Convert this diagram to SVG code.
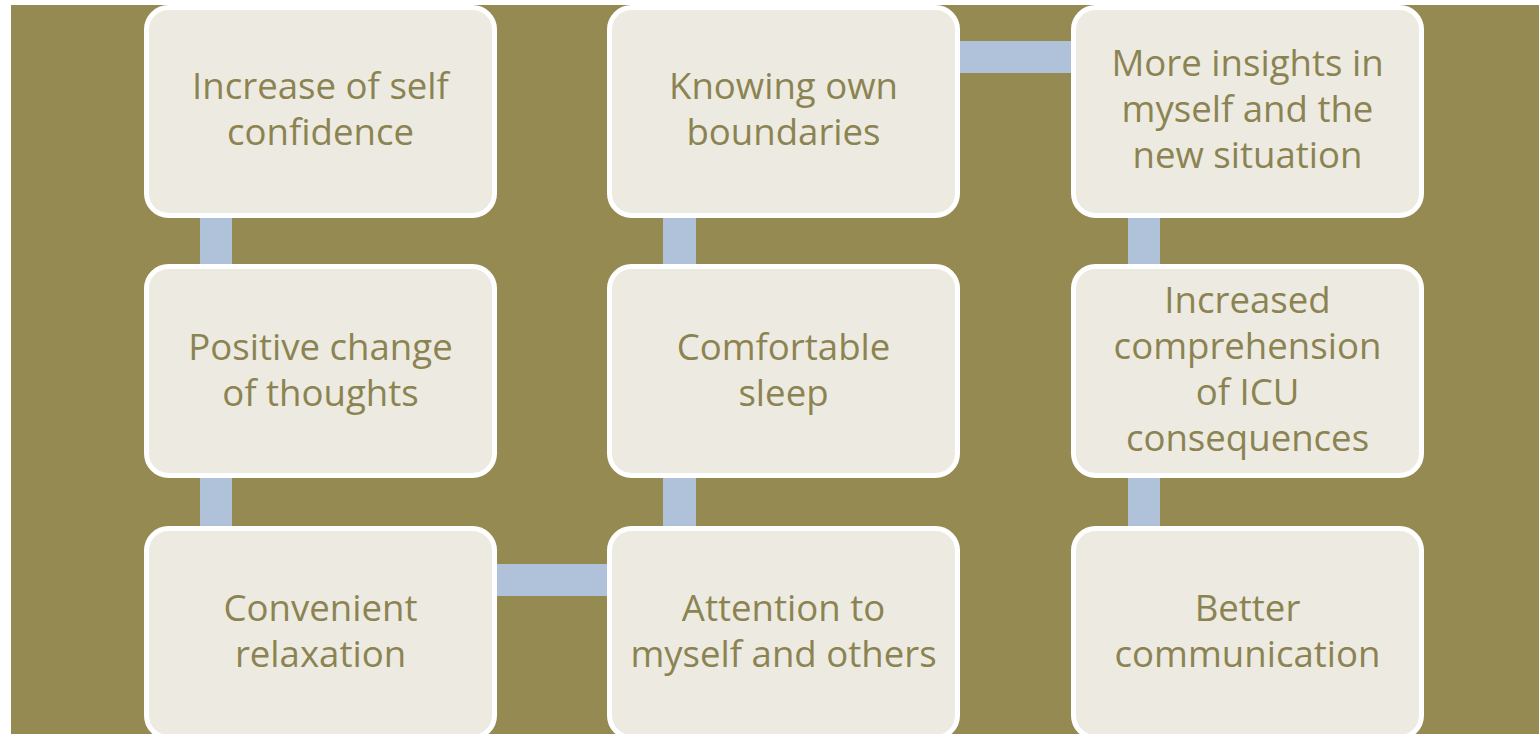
<svg xmlns="http://www.w3.org/2000/svg" width="1539" height="734" viewBox="0 0 1539 734">
<style>
.bg{fill:#958A52}
.box{fill:#EDEBE1;stroke:#FFFFFF;stroke-width:5}
.lbl{font-family:"Open Sans","Liberation Sans",sans-serif;font-size:36.6px;fill:#8C8352;text-anchor:middle}
.con{fill:#B0C1DA}
</style>
<rect class="bg" x="11" y="5" width="1528" height="729"/>
<g id="connectors">
<rect class="con" x="200" y="210" width="32" height="60"/>
<rect class="con" x="200" y="470" width="32" height="62"/>
<rect class="con" x="490" y="564" width="124" height="32"/>
<rect class="con" x="663" y="470" width="33" height="62"/>
<rect class="con" x="663" y="210" width="33" height="60"/>
<rect class="con" x="953" y="41" width="124" height="32"/>
<rect class="con" x="1128" y="210" width="32" height="60"/>
<rect class="con" x="1128" y="470" width="32" height="62"/>
</g>
<g id="n1">
<rect class="box" x="146.5" y="7.5" width="348" height="208" rx="22"/>
<text class="lbl" x="320.5" y="99">Increase of self</text>
<text class="lbl" x="320.5" y="145">confidence</text>
</g>
<g id="n2">
<rect class="box" x="146.5" y="266.5" width="348" height="209" rx="22"/>
<text class="lbl" x="320.5" y="360">Positive change</text>
<text class="lbl" x="320.5" y="406">of thoughts</text>
</g>
<g id="n3">
<rect class="box" x="146.5" y="528.5" width="348" height="209" rx="22"/>
<text class="lbl" x="320.5" y="621">Convenient</text>
<text class="lbl" x="320.5" y="667">relaxation</text>
</g>
<g id="n4">
<rect class="box" x="609.5" y="528.5" width="348" height="209" rx="22"/>
<text class="lbl" x="783.5" y="621">Attention to</text>
<text class="lbl" x="783.5" y="667">myself and others</text>
</g>
<g id="n5">
<rect class="box" x="609.5" y="266.5" width="348" height="209" rx="22"/>
<text class="lbl" x="783.5" y="360">Comfortable</text>
<text class="lbl" x="783.5" y="406">sleep</text>
</g>
<g id="n6">
<rect class="box" x="609.5" y="7.5" width="348" height="208" rx="22"/>
<text class="lbl" x="783.5" y="99">Knowing own</text>
<text class="lbl" x="783.5" y="145">boundaries</text>
</g>
<g id="n7">
<rect class="box" x="1073.5" y="7.5" width="348" height="208" rx="22"/>
<text class="lbl" x="1247.5" y="76">More insights in</text>
<text class="lbl" x="1247.5" y="122">myself and the</text>
<text class="lbl" x="1247.5" y="168">new situation</text>
</g>
<g id="n8">
<rect class="box" x="1073.5" y="266.5" width="348" height="209" rx="22"/>
<text class="lbl" x="1247.5" y="313">Increased</text>
<text class="lbl" x="1247.5" y="359">comprehension</text>
<text class="lbl" x="1247.5" y="405">of ICU</text>
<text class="lbl" x="1247.5" y="451">consequences</text>
</g>
<g id="n9">
<rect class="box" x="1073.5" y="528.5" width="348" height="209" rx="22"/>
<text class="lbl" x="1247.5" y="621">Better</text>
<text class="lbl" x="1247.5" y="667">communication</text>
</g>
</svg>
